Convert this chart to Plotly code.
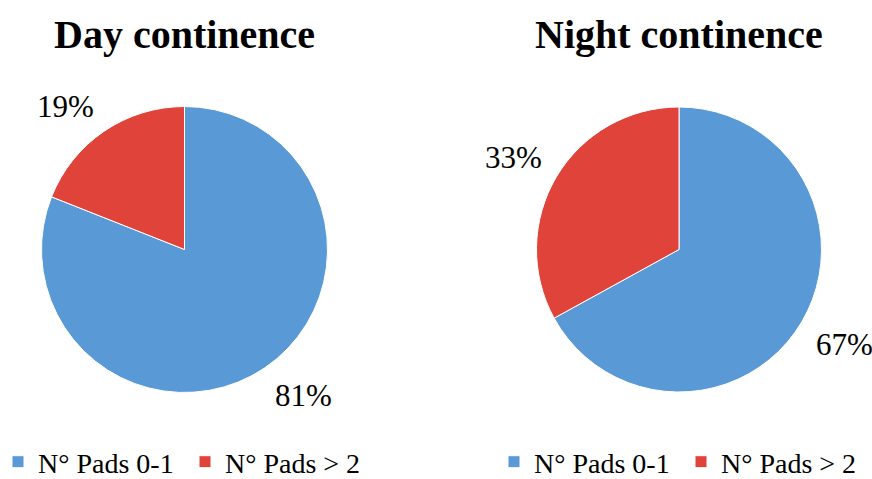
import math
import plotly.graph_objects as go

categories = ["N° Pads 0-1", "N° Pads > 2"]
day_values = [81, 19]
night_values = [67, 33]
titles = ["Day continence", "Night continence"]
colors = ["#5899D6", "#E0433A"]

W, H = 872, 479
FONT = "Liberation Serif"
pies = [
    dict(values=day_values, title=titles[0], cx=184.5, cy=249.5, r=143, legend="legend", suffix=""),
    dict(values=night_values, title=titles[1], cx=679, cy=249.5, r=142.5, legend="legend2", suffix=" "),
]

fig = go.Figure()
for p in pies:
    cx, cy, r = p["cx"], p["cy"], p["r"]
    fig.add_trace(go.Pie(
        labels=[c + p["suffix"] for c in categories], values=p["values"], sort=False,
        direction="clockwise", rotation=0,
        marker=dict(colors=colors, line=dict(color="white", width=1)),
        textinfo="none",
        domain=dict(x=[(cx - r) / W, (cx + r) / W], y=[(H - cy - r) / H, (H - cy + r) / H]),
        legend=p["legend"], showlegend=True, hoverinfo="label+percent",
    ))
    fig.add_annotation(text="<b>%s</b>" % p["title"], x=cx / W, y=(H - 35) / H,
                       xref="paper", yref="paper", xanchor="center", yanchor="middle",
                       showarrow=False, font=dict(family=FONT, size=40, color="black"))
    # data labels placed outside each slice, Excel-style, from the slice mid-angle
    total = float(sum(p["values"]))
    start = 0.0
    for v in p["values"]:
        mid = (start + v / 2.0) / total * 2 * math.pi
        start += v
        dx, dy = math.sin(mid), -math.cos(mid)
        ax = cx + (r + 14) * dx
        ay = cy + (r + 17) * dy + (14 if dy > 0 else -10.5)
        fig.add_annotation(text="%d%%" % round(v / total * 100), x=ax / W, y=(H - ay) / H,
                           xref="paper", yref="paper",
                           xanchor="left" if dx > 0 else "right", yanchor="middle",
                           showarrow=False, font=dict(family=FONT, size=31, color="black"))

leg = dict(orientation="h", yanchor="bottom", xanchor="left", y=-8 / H,
           font=dict(family=FONT, size=28, color="black"), bgcolor="rgba(0,0,0,0)",
           entrywidth=142, entrywidthmode="pixels", traceorder="normal")
fig.update_layout(
    width=W, height=H, margin=dict(l=0, r=0, t=0, b=0, autoexpand=False),
    paper_bgcolor="white", plot_bgcolor="white",
    legend=dict(leg, x=-2 / W),
    legend2=dict(leg, x=494 / W),
)
fig.write_html("out.html", config={"displayModeBar": False},
               post_script="document.body.style.margin='0';document.body.style.overflow='hidden';")
